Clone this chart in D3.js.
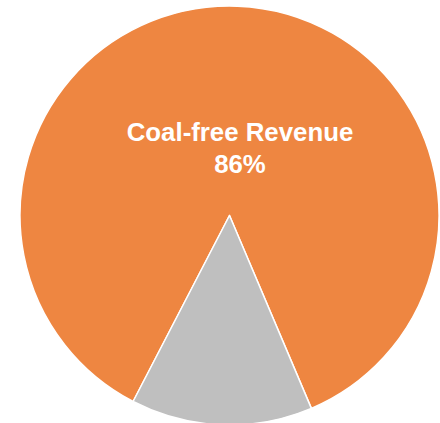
<!DOCTYPE html>
<html>
<head>
<meta charset="utf-8">
<script src="https://cdn.jsdelivr.net/npm/d3@7"></script>
<style>
  html, body { margin: 0; padding: 0; background: #ffffff; }
  svg { display: block; }
</style>
</head>
<body>
<svg id="chart" width="440" height="423"></svg>
<script>
// Revenue split
const categories = ["Coal-free Revenue", "Coal Revenue"];
const shares = [86, 14];
const colors = ["#EE8641", "#BFBFBF"];
const labelLines = ["Coal-free Revenue", "86%"];

const width = 440, height = 423;
const cx = 229.5, cy = 215.5, radius = 209.5;
const startDeg = 207.4;

const svg = d3.select("#chart");
const g = svg.append("g").attr("transform", `translate(${cx},${cy})`);

const pie = d3.pie()
  .sort(null)
  .value(d => d.value)
  .startAngle(startDeg * Math.PI / 180)
  .endAngle(startDeg * Math.PI / 180 + 2 * Math.PI);

const arc = d3.arc().innerRadius(0).outerRadius(radius);

const data = categories.map((c, i) => ({ name: c, value: shares[i] }));

g.selectAll("path.slice")
  .data(pie(data))
  .join("path")
  .attr("class", "slice")
  .attr("d", arc)
  .attr("fill", (d, i) => colors[i])
  .attr("stroke", "#ffffff")
  .attr("stroke-width", 1.5)
  .attr("stroke-linejoin", "round");

// Label for the large slice
const label = svg.append("text")
  .attr("x", 240)
  .attr("y", 141)
  .attr("text-anchor", "middle")
  .attr("fill", "#ffffff")
  .attr("font-family", "Liberation Sans, Arial, sans-serif")
  .attr("font-weight", "bold")
  .attr("font-size", 25.8);

label.selectAll("tspan")
  .data(labelLines)
  .join("tspan")
  .attr("x", 240)
  .attr("dy", (d, i) => i === 0 ? 0 : 32)
  .text(d => d);
</script>
</body>
</html>
